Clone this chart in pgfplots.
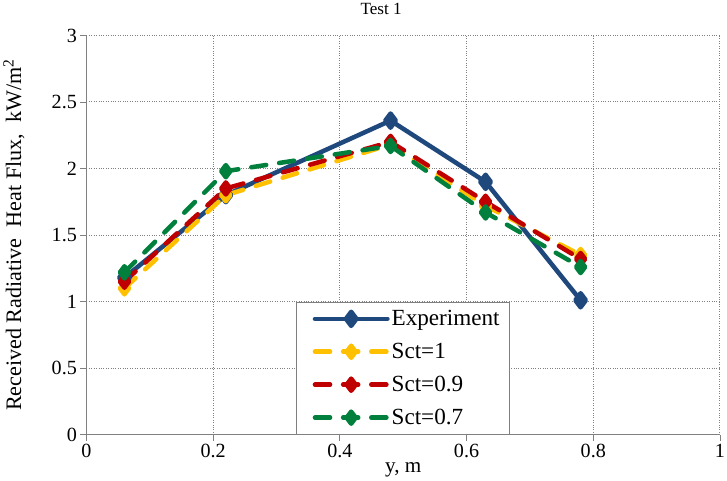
\documentclass[border=0pt]{standalone}
\usepackage{pgfplots}
\pgfplotsset{compat=1.18}
\usepackage{fontspec}
\setmainfont{Liberation Serif}

\definecolor{expblue}{RGB}{31,73,125}
\definecolor{sctyellow}{RGB}{255,192,0}
\definecolor{sctred}{RGB}{192,0,0}
\definecolor{sctgreen}{RGB}{0,128,60}

\begin{document}
\begin{tikzpicture}
\begin{axis}[
  name=ax,
  scale only axis,
  width=630pt, height=397pt,
  xmin=0, xmax=1, ymin=0, ymax=3,
  xtick={0,0.2,...,1}, ytick={0,0.5,...,3},
  xticklabels={0,0.2,0.4,0.6,0.8,1},
  yticklabels={0,0.5,1,1.5,2,2.5,3},
  axis lines=left,
  axis line style={gray, line width=1pt, -},
  tick style={gray, line width=0.8pt},
  tick align=outside,
  major tick length=6pt,
  grid=major,
  major grid style={gray, dotted, line width=1pt},
  tick label style={font=\fontsize{20}{24}\selectfont},
  /pgf/number format/assume math mode=true,
  title={Test 1},
  title style={font=\fontsize{17}{20}\selectfont, at={(axis description cs:0.465,1)}, anchor=south, yshift=11pt},
  xlabel={y, m},
  xlabel style={font=\fontsize{21}{25}\selectfont, at={(axis description cs:0.5,0)}, anchor=north, yshift=-24pt},
  ylabel={Received Radiative\ \ Heat Flux,\ \ kW/m\textsuperscript{2}},
  ylabel style={font=\fontsize{22}{26}\selectfont, at={(axis description cs:0,0.5)}, anchor=south, yshift=58pt},
  legend style={at={(axis description cs:0.331,0)}, anchor=south west,
    draw=gray, line width=1pt, font=\fontsize{23}{27}\selectfont,
    row sep=12pt, inner xsep=8pt, inner ysep=6pt, cells={anchor=west}},
  legend image code/.code={\path (0pt,0pt); \draw[mark repeat=2,mark phase=2] plot coordinates {(8pt,0pt)(44pt,0pt)(80pt,0pt)};},
  every axis plot/.append style={line width=4.5pt, line cap=round, line join=round},
]
\addplot[color=expblue, mark=diamond*, mark size=7pt, mark options={solid}] coordinates {
  (0.06,1.18)(0.22,1.80)(0.48,2.36)(0.63,1.90)(0.78,1.01)
};
\addplot[color=sctyellow, dash pattern=on 15pt off 13pt, mark=diamond*, mark size=6pt, mark options={solid}] coordinates {
  (0.06,1.10)(0.22,1.80)(0.48,2.18)(0.63,1.72)(0.78,1.35)
};
\addplot[color=sctred, dash pattern=on 15pt off 13pt, mark=diamond*, mark size=6pt, mark options={solid}] coordinates {
  (0.06,1.15)(0.22,1.85)(0.48,2.20)(0.63,1.75)(0.78,1.32)
};
\addplot[color=sctgreen, dash pattern=on 15pt off 13pt, mark=diamond*, mark size=6pt, mark options={solid}] coordinates {
  (0.06,1.22)(0.22,1.98)(0.48,2.17)(0.63,1.67)(0.78,1.26)
};
\legend{Experiment, Sct=1, Sct=0.9, Sct=0.7}
\end{axis}
\pgfresetboundingbox
\useasboundingbox (ax.outer south west) rectangle ([xshift=7pt]ax.east |- ax.outer north);
\end{tikzpicture}
\end{document}
